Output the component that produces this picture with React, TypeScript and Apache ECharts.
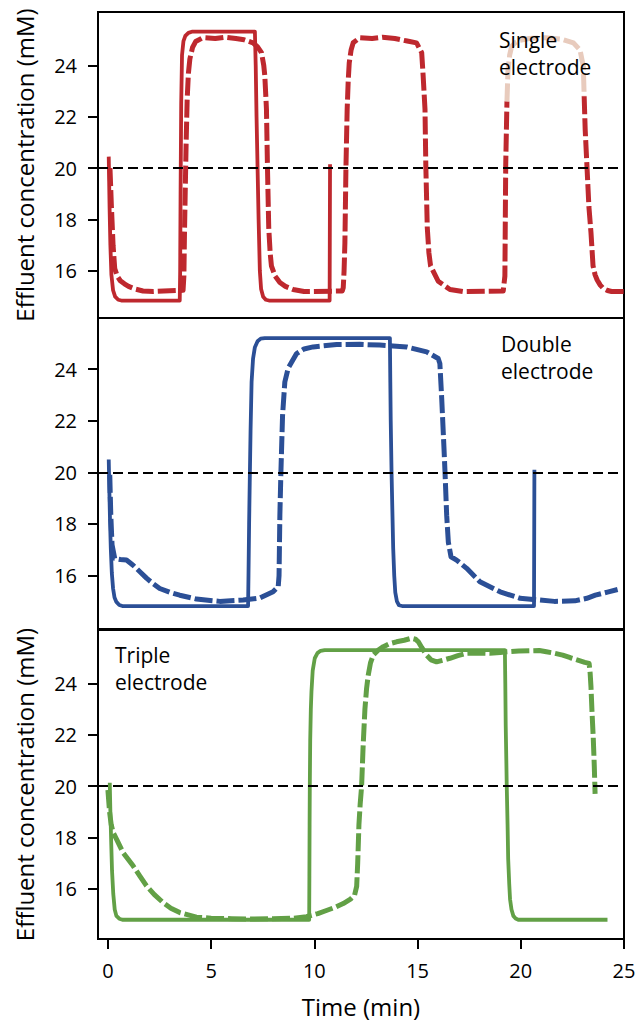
import React, { useEffect, useRef } from "react";
import * as echarts from "echarts";

// ---------- data (time in min, concentration in mM) ----------
const xTicks = [0, 5, 10, 15, 20, 25];
const yTicks = [16, 18, 20, 22, 24];
const threshold = 20;

const panelLabels = ["Single\nelectrode", "Double\nelectrode", "Triple\nelectrode"];
const yTitle = "Effluent concentration (mM)";
const xTitle = "Time (min)";

// Single electrode
const redModel: number[][] = [
  [0.04, 20.45], [0.08, 18.5], [0.12, 17.0], [0.17, 15.85], [0.25, 15.25], [0.35, 15.0], [0.5, 14.88], [0.65, 14.85],
  [3.48, 14.85], [3.5, 16.0], [3.52, 19.0], [3.55, 22.5], [3.59, 24.4], [3.66, 24.95], [3.75, 25.15], [3.9, 25.27], [4.1, 25.32],
  [7.12, 25.32], [7.16, 24.0], [7.2, 22.0], [7.25, 20.0], [7.3, 18.0], [7.36, 16.0], [7.42, 15.3], [7.52, 15.0], [7.65, 14.88], [7.8, 14.85],
  [10.74, 14.85], [10.76, 20.15],
];
const redExp: number[][] = [
  [0.1, 20.0], [0.17, 18.5], [0.25, 17.0], [0.33, 16.1], [0.45, 15.8], [0.6, 15.62], [0.8, 15.5], [1.0, 15.4], [1.3, 15.3], [1.7, 15.22], [2.2, 15.2],
  [3.64, 15.25], [3.68, 15.8], [3.71, 17.5], [3.75, 19.3], [3.79, 21.0], [3.84, 22.7], [3.9, 23.7], [3.97, 24.25], [4.1, 24.7], [4.25, 24.93], [4.6, 25.08],
  [5.2, 25.05], [5.7, 25.1], [6.2, 25.05], [6.6, 25.0], [7.03, 24.88], [7.25, 24.72], [7.44, 24.5], [7.55, 24.0], [7.6, 23.6], [7.68, 22.3],
  [7.73, 20.0], [7.79, 17.7], [7.86, 16.7], [7.92, 16.2], [8.1, 15.8], [8.33, 15.55], [8.6, 15.4], [8.97, 15.28], [9.5, 15.2],
  [11.35, 15.22], [11.4, 15.35], [11.44, 16.0], [11.48, 17.1], [11.53, 20.0], [11.59, 22.3], [11.64, 23.4], [11.69, 24.1], [11.78, 24.6], [11.88, 24.88], [12.2, 25.08],
  [12.8, 25.05], [13.3, 25.1], [13.9, 25.05], [14.5, 24.95], [14.95, 24.88], [15.2, 24.5], [15.27, 23.6], [15.36, 22.3], [15.4, 20.1], [15.47, 17.7],
  [15.55, 16.7], [15.63, 16.2], [16.0, 15.6], [16.57, 15.28], [17.2, 15.2],
  [19.15, 15.22], [19.23, 15.8], [19.27, 20.1], [19.33, 22.6],
];
const redExpFaded: number[][] = [
  [19.33, 22.6], [19.38, 23.8], [19.46, 24.4], [19.56, 24.75], [19.75, 24.9], [19.96, 24.98], [20.4, 25.05], [21.2, 25.08], [22.0, 25.02],
  [22.55, 24.88], [22.87, 24.6], [23.03, 23.96], [23.07, 22.8],
];
const redExpEnd: number[][] = [
  [23.07, 22.8], [23.12, 21.5], [23.21, 20.0], [23.3, 18.5], [23.4, 17.5], [23.5, 16.2], [23.6, 15.85], [23.7, 15.65], [23.85, 15.45],
  [24.0, 15.32], [24.2, 15.24], [24.4, 15.2], [25.0, 15.2],
];

// Double electrode
const blueModel: number[][] = [
  [0.04, 20.5], [0.07, 19.3], [0.1, 18.2], [0.14, 17.05], [0.19, 16.1], [0.25, 15.5], [0.32, 15.15], [0.41, 14.98], [0.55, 14.86], [0.7, 14.82],
  [6.79, 14.82], [6.81, 16.0], [6.84, 18.0], [6.87, 19.6], [6.91, 21.6], [6.96, 23.5], [7.03, 24.4], [7.12, 24.85], [7.25, 25.08], [7.4, 25.18], [7.6, 25.2],
  [13.66, 25.2], [13.68, 23.5], [13.7, 22.0], [13.74, 20.0], [13.78, 18.5], [13.82, 17.05], [13.87, 16.0], [13.92, 15.35], [14.0, 15.0], [14.1, 14.85], [14.25, 14.82],
  [20.64, 14.82], [20.66, 20.1],
];
const blueExp: number[][] = [
  [0.09, 19.9], [0.14, 18.34], [0.2, 17.2], [0.33, 16.66], [0.6, 16.62], [0.9, 16.6], [1.22, 16.4], [1.55, 16.15], [1.87, 15.9], [2.2, 15.68], [2.51, 15.5],
  [3.0, 15.35], [3.48, 15.24], [4.29, 15.09], [5.42, 15.0], [6.55, 15.05], [7.36, 15.13], [8.0, 15.37], [8.25, 15.57],
  [8.29, 16.0], [8.33, 18.34], [8.38, 20.0], [8.46, 22.2], [8.57, 23.5], [8.73, 24.03], [9.14, 24.6], [9.5, 24.78], [9.94, 24.86], [11.08, 24.95],
  [12.2, 24.96], [13.17, 24.93], [14.47, 24.86], [15.44, 24.67], [16.0, 24.41], [16.08, 24.22],
  [16.17, 22.86], [16.28, 20.93], [16.33, 20.0], [16.41, 18.34], [16.49, 17.3], [16.62, 16.73], [16.89, 16.6], [17.38, 16.28], [18.02, 15.76],
  [19.0, 15.37], [19.96, 15.12], [20.8, 15.06], [21.63, 15.0], [22.62, 15.02], [23.2, 15.12], [23.61, 15.24], [24.2, 15.36], [24.69, 15.46],
];

// Triple electrode
const greenModel: number[][] = [
  [0.09, 20.13], [0.12, 19.0], [0.16, 17.8], [0.2, 16.7], [0.26, 15.8], [0.33, 15.2], [0.41, 14.95], [0.55, 14.84], [0.7, 14.8],
  [9.75, 14.8], [9.76, 16.5], [9.77, 18.5], [9.78, 20.0], [9.8, 21.8], [9.83, 23.0], [9.86, 23.67], [9.92, 24.5], [10.02, 24.98], [10.15, 25.18], [10.3, 25.27], [10.5, 25.3],
  [19.23, 25.3], [19.25, 24.0], [19.27, 22.37], [19.3, 21.0], [19.32, 20.0], [19.36, 18.5], [19.39, 17.16], [19.44, 16.2], [19.48, 15.6], [19.55, 15.2],
  [19.64, 14.95], [19.75, 14.85], [19.88, 14.8], [24.2, 14.8],
];
const greenExp: number[][] = [
  [0.0, 19.85], [0.08, 19.0], [0.16, 18.5], [0.25, 18.2], [0.41, 17.95], [0.73, 17.42], [1.22, 16.9], [1.55, 16.5], [1.87, 16.12], [2.25, 15.78],
  [2.67, 15.47], [3.05, 15.25], [3.48, 15.08], [4.29, 14.9], [5.0, 14.86], [6.0, 14.84], [7.0, 14.83], [8.0, 14.84], [9.0, 14.86], [9.62, 14.92],
  [10.17, 15.04], [10.55, 15.15], [10.96, 15.27], [11.4, 15.43], [11.75, 15.6], [11.95, 15.76], [12.05, 16.1], [12.1, 17.0], [12.16, 18.5], [12.22, 19.3],
  [12.29, 20.0], [12.36, 21.5], [12.45, 23.0], [12.53, 23.8], [12.61, 24.32], [12.72, 24.8], [12.85, 25.1], [13.1, 25.3], [13.34, 25.43], [13.65, 25.55],
  [13.98, 25.62], [14.35, 25.68], [14.71, 25.76], [14.9, 25.72], [15.03, 25.63], [15.2, 25.4], [15.44, 25.1], [15.65, 24.92], [15.92, 24.84], [16.2, 24.9],
  [16.57, 24.98], [16.95, 25.08], [17.38, 25.17], [18.0, 25.18], [18.5, 25.17], [19.0, 25.2], [19.32, 25.23], [19.9, 25.26], [20.45, 25.27], [20.9, 25.28],
  [21.24, 25.23], [21.6, 25.18], [22.03, 25.1], [22.4, 25.0], [22.8, 24.9], [23.1, 24.82], [23.31, 24.78], [23.36, 24.4], [23.4, 23.87], [23.45, 22.9],
  [23.51, 21.9], [23.56, 20.8], [23.6, 19.7],
];

// ---------- chart ----------
const FONT = "'Open Sans', 'Noto Sans', sans-serif";
const RED = "#be282e";
const RED_FADED = "#e8cbbd";
const BLUE = "#2b4f96";
const GREEN = "#62a046";

const X_MIN = -0.48;
const X_MAX = 25;

const panels = [
  { top: 12, height: 306, min: 14.17, max: 26.08 },
  { top: 318, height: 311, min: 13.93, max: 25.98 },
  { top: 630, height: 309, min: 14.05, max: 26.08 },
];

function solid(data: number[][], color: string, i: number) {
  return {
    type: "line", xAxisIndex: i, yAxisIndex: i, data, showSymbol: false, symbol: "none",
    lineStyle: { color, width: 3.8, cap: "butt", join: "round" }, z: 3,
  };
}
function dashed(data: number[][], color: string, i: number) {
  return {
    type: "line", xAxisIndex: i, yAxisIndex: i, data, showSymbol: false, symbol: "none",
    lineStyle: { color, width: 5, type: [18, 4], cap: "butt", join: "round" }, z: 3,
  };
}
function thresholdLine(i: number) {
  return {
    type: "line", xAxisIndex: i, yAxisIndex: i, data: [], symbol: "none", z: 5,
    markLine: {
      silent: true, symbol: "none", label: { show: false }, animation: false,
      lineStyle: { color: "#000", width: 2, type: [10, 5] },
      data: [{ yAxis: threshold }],
    },
  };
}

export default function App() {
  const ref = useRef<HTMLDivElement>(null);
  useEffect(() => {
    document.body.style.margin = "0";
    if (!ref.current) return;
    const chart = echarts.init(ref.current, undefined, { renderer: "svg" });
    const option: any = {
      animation: false,
      backgroundColor: "#fff",
      textStyle: { fontFamily: FONT },
      grid: panels.map((p) => ({
        left: 98, width: 526, top: p.top, height: p.height,
        show: true, borderColor: "#000", borderWidth: 2, backgroundColor: "transparent",
        containLabel: false, outerBoundsMode: "none",
      })),
      xAxis: panels.map((p, i) => ({
        type: "value", gridIndex: i, min: X_MIN, max: X_MAX,
        splitLine: { show: false },
        axisLine: { show: i === 2, onZero: false, lineStyle: { color: "#000", width: 2 } },
        axisTick: { show: i === 2, customValues: xTicks, length: 10, lineStyle: { color: "#000", width: 2 } },
        axisLabel: { show: i === 2, customValues: xTicks, margin: 21, color: "#000", fontSize: 20, fontFamily: FONT, lineHeight: 20 },
        name: i === 2 ? xTitle : "",
        nameLocation: "middle", nameGap: 54,
        nameTextStyle: { color: "#000", fontSize: 24, fontFamily: FONT, lineHeight: 26 },
      })),
      yAxis: panels.map((p, i) => ({
        type: "value", gridIndex: i, min: p.min, max: p.max,
        splitLine: { show: false },
        axisLine: { show: true, onZero: false, lineStyle: { color: "#000", width: 2 } },
        axisTick: { show: true, customValues: yTicks, length: 10, lineStyle: { color: "#000", width: 2 } },
        axisLabel: { customValues: yTicks, margin: 21, color: "#000", fontSize: 20, fontFamily: FONT },
        name: i === 1 ? "" : yTitle,
        nameLocation: "middle", nameGap: 62, nameRotate: 90,
        nameTextStyle: { color: "#000", fontSize: 24, fontFamily: FONT },
      })),
      graphic: [
        { type: "text", x: 499, y: 26, z: 100, style: { text: panelLabels[0], fill: "#000", font: `21px ${FONT}`, lineHeight: 27, verticalAlign: "top", align: "left" } },
        { type: "text", x: 501, y: 330, z: 100, style: { text: panelLabels[1], fill: "#000", font: `21px ${FONT}`, lineHeight: 27, verticalAlign: "top", align: "left" } },
        { type: "text", x: 115, y: 641, z: 100, style: { text: panelLabels[2], fill: "#000", font: `21px ${FONT}`, lineHeight: 27, verticalAlign: "top", align: "left" } },
      ],
      series: [
        solid(redModel, RED, 0),
        dashed(redExp, RED, 0),
        dashed(redExpFaded, RED_FADED, 0),
        dashed(redExpEnd, RED, 0),
        thresholdLine(0),
        solid(blueModel, BLUE, 1),
        dashed(blueExp, BLUE, 1),
        thresholdLine(1),
        solid(greenModel, GREEN, 2),
        dashed(greenExp, GREEN, 2),
        thresholdLine(2),
      ],
    };
    chart.setOption(option);
    return () => chart.dispose();
  }, []);
  return <div ref={ref} style={{ width: 636, height: 1022 }} />;
}
